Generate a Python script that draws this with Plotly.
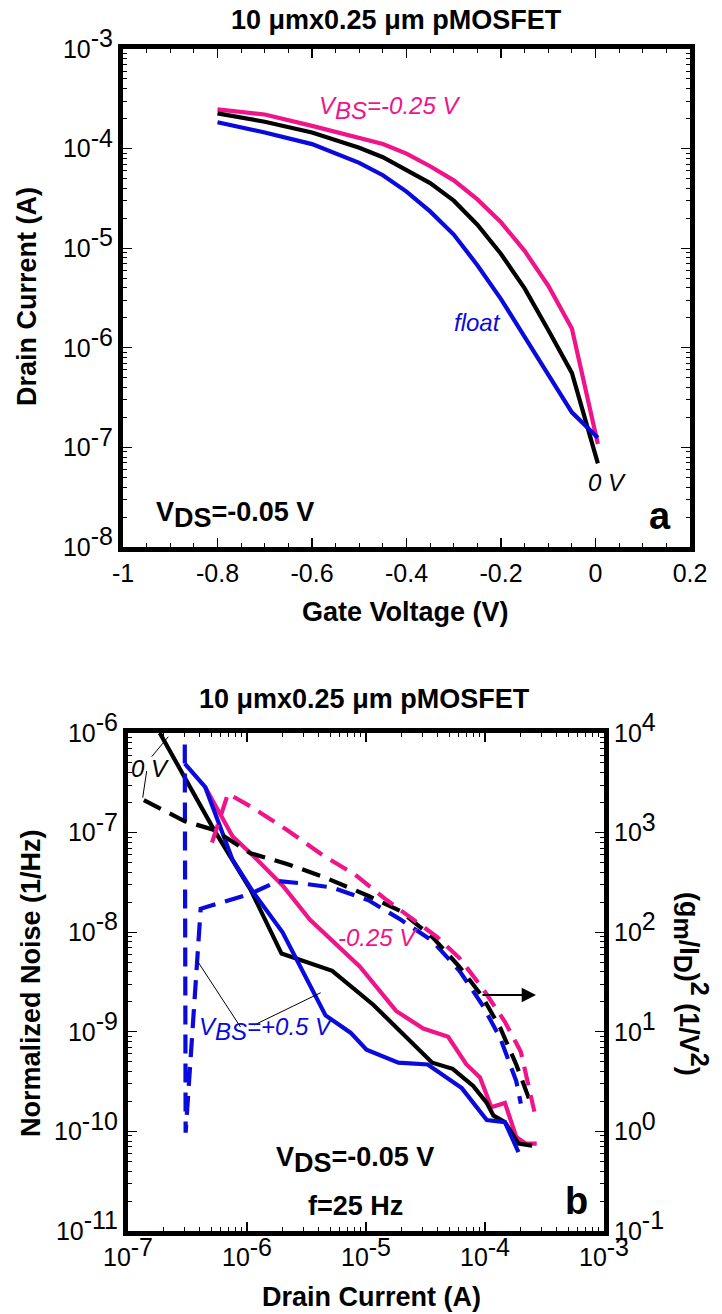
import plotly.graph_objects as go

# ---------------- Panel a : Id-Vg ----------------
vg_pink = [-0.8, -0.7, -0.6, -0.5, -0.45, -0.4, -0.35, -0.3, -0.25, -0.2, -0.15, -0.1, -0.05, 0.005]
id_pink = [2.48e-4, 2.20e-4, 1.69e-4, 1.28e-4, 1.11e-4, 8.9e-5, 6.65e-5, 4.8e-5, 3.09e-5, 1.82e-5, 9.4e-6, 4.2e-6, 1.56e-6, 1.08e-7]
vg_black = [-0.8, -0.7, -0.6, -0.5, -0.45, -0.4, -0.35, -0.3, -0.25, -0.2, -0.15, -0.1, -0.05, 0.005]
id_black = [2.26e-4, 1.86e-4, 1.45e-4, 1.02e-4, 8.2e-5, 6.1e-5, 4.5e-5, 3.0e-5, 1.72e-5, 8.75e-6, 3.95e-6, 1.51e-6, 5.6e-7, 6.9e-8]
vg_blue = [-0.8, -0.7, -0.6, -0.5, -0.45, -0.4, -0.35, -0.3, -0.25, -0.2, -0.15, -0.1, -0.05, 0.005]
id_blue = [1.84e-4, 1.45e-4, 1.11e-4, 7.2e-5, 5.4e-5, 3.7e-5, 2.34e-5, 1.37e-5, 6.75e-6, 3.08e-6, 1.29e-6, 5.4e-7, 2.25e-7, 1.25e-7]

# ---------------- Panel b : noise (left axis) ----------------
idn_black = [1.85e-7, 5.3e-7, 1.07e-6, 1.95e-6, 5.2e-6, 1.15e-5, 3.6e-5, 5.35e-5, 7.96e-5, 1.035e-4, 1.18e-4, 1.47e-4, 1.91e-4, 2.49e-4]
sn_black = [1.0e-6, 1.06e-7, 2.68e-8, 6.1e-9, 4.1e-9, 1.87e-9, 4.9e-10, 4.25e-10, 2.86e-10, 1.93e-10, 1.44e-10, 1.24e-10, 7.55e-11, 7.2e-11]
idn_blue = [3.0e-7, 4.46e-7, 7.55e-7, 1.12e-6, 1.99e-6, 2.82e-6, 4.57e-6, 7.41e-6, 1.01e-5, 1.87e-5, 3.3e-5, 6.38e-5, 1.035e-4, 1.47e-4, 1.91e-4]
sn_blue = [4.92e-7, 2.86e-7, 5.35e-8, 2.55e-8, 9.98e-9, 4.53e-9, 1.46e-9, 9.8e-10, 6.6e-10, 4.9e-10, 4.7e-10, 2.72e-10, 1.3e-10, 1.24e-10, 6.2e-11]
idn_pink = [4.46e-7, 7.55e-7, 1.12e-6, 1.99e-6, 3.37e-6, 8.85e-6, 1.79e-5, 3.03e-5, 4.9e-5, 6.98e-5, 9.08e-5, 1.13e-4, 1.47e-4, 1.83e-4, 2.19e-4, 2.72e-4]
sn_pink = [2.86e-7, 9.2e-8, 5.9e-8, 2.95e-8, 1.34e-8, 4.53e-9, 1.62e-9, 1.08e-9, 8.9e-10, 4.7e-10, 3.48e-10, 1.75e-10, 1.93e-10, 8.8e-11, 7.55e-11, 7.55e-11]

# ---------------- Panel b : (gm/Id)^2 (right axis) ----------------
idg_black = [1.36e-7, 3.0e-7, 5.3e-7, 1.07e-6, 2.17e-6, 4.38e-6, 1.05e-5, 1.95e-5, 3.6e-5, 6.1e-5, 9.48e-5, 1.35e-4, 1.83e-4, 2.49e-4]
g_black = [2120, 1300, 1064, 620, 484, 360, 231, 163, 90, 45, 22.7, 10.8, 4.7, 1.75]
idg_pink = [5.08e-7, 6.92e-7, 1.07e-6, 2.17e-6, 4.38e-6, 8.09e-6, 1.5e-5, 2.54e-5, 3.94e-5, 6.1e-5, 9.48e-5, 1.47e-4, 2.0e-4, 2.6e-4]
g_pink = [792, 2466, 1832, 1064, 589, 378, 209, 134, 90, 55, 27.7, 12.6, 6.3, 1.58]
idg_blue = [3.0e-7, 3.05e-7, 4.08e-7, 1.07e-6, 1.82e-6, 2.82e-6, 5.22e-6, 1.05e-5, 1.95e-5, 3.6e-5, 6.1e-5, 9.48e-5, 1.35e-4, 1.83e-4, 2.0e-4]
g_blue = [7650, 0.97, 172, 243, 326, 310, 281, 209, 134, 82, 41, 18.7, 8.5, 3.2, 1.9]

# tick labels
xa_vals = [-1, -0.8, -0.6, -0.4, -0.2, 0, 0.2]
xa_text = ["-1", "-0.8", "-0.6", "-0.4", "-0.2", "0", "0.2"]
ya_exp = [-8, -7, -6, -5, -4, -3]
xb_exp = [-7, -6, -5, -4, -3]
yb_exp = [-11, -10, -9, -8, -7, -6]
yc_exp = [-1, 0, 1, 2, 3, 4]

PINK = "#F0148A"
BLUE = "#0A0ADC"
BLACK = "#000000"
FONT = "Liberation Sans"
W, H = 722, 1314
TICKSZ = 25


def pw(x):
    return x / W


def ph(y):
    return 1 - y / H


def pow_text(e):
    return "10<sup><span style='font-size:%dpx'>%d</span></sup>" % (TICKSZ, e)


def minor_vals(exps):
    out = []
    for e in exps[:-1]:
        for k in range(2, 10):
            out.append(k * 10.0 ** e)
    return out


fig = go.Figure()
LW = 4.2
fig.add_trace(go.Scatter(x=vg_pink, y=id_pink, mode="lines", line=dict(color=PINK, width=LW), xaxis="x", yaxis="y"))
fig.add_trace(go.Scatter(x=vg_black, y=id_black, mode="lines", line=dict(color=BLACK, width=LW), xaxis="x", yaxis="y"))
fig.add_trace(go.Scatter(x=vg_blue, y=id_blue, mode="lines", line=dict(color=BLUE, width=LW), xaxis="x", yaxis="y"))

DASH = "19px,10px"
fig.add_trace(go.Scatter(x=idg_blue, y=g_blue, mode="lines", line=dict(color=BLUE, width=LW, dash=DASH), xaxis="x2", yaxis="y3"))
fig.add_trace(go.Scatter(x=idg_black, y=g_black, mode="lines", line=dict(color=BLACK, width=LW, dash=DASH), xaxis="x2", yaxis="y3"))
fig.add_trace(go.Scatter(x=idg_pink, y=g_pink, mode="lines", line=dict(color=PINK, width=LW, dash=DASH), xaxis="x2", yaxis="y3"))

fig.add_trace(go.Scatter(x=idn_pink, y=sn_pink, mode="lines", line=dict(color=PINK, width=LW), xaxis="x2", yaxis="y2"))
fig.add_trace(go.Scatter(x=idn_black, y=sn_black, mode="lines", line=dict(color=BLACK, width=LW), xaxis="x2", yaxis="y2"))
fig.add_trace(go.Scatter(x=idn_blue, y=sn_blue, mode="lines", line=dict(color=BLUE, width=LW), xaxis="x2", yaxis="y2"))

tickfont = dict(family=FONT, size=TICKSZ, color="black")
common = dict(showline=True, linewidth=5, linecolor="black", showgrid=False, zeroline=False, automargin=False,
              ticks="inside", ticklen=9, tickwidth=1.3, tickcolor="black", tickfont=tickfont)
mnr = dict(ticks="inside", ticklen=4, tickcolor="black", tickwidth=1, showgrid=False)

# plot-area edges (pixels); axis lines are drawn just outside these
A_L, A_R, A_T, A_B = 123, 690, 49, 547
B_L, B_R, B_T, B_B = 128, 604, 733, 1231

fig.update_layout(
    width=W, height=H, autosize=False, showlegend=False,
    margin=dict(l=0, r=0, t=0, b=0, pad=0),
    paper_bgcolor="white", plot_bgcolor="white",
    xaxis=dict(domain=[pw(A_L), pw(A_R)], anchor="y", range=[-1, 0.2], tickmode="array",
               tickvals=xa_vals, ticktext=xa_text, mirror="ticks",
               minor=dict(tickmode="linear", tick0=0, dtick=0.05, **mnr), **common),
    yaxis=dict(domain=[ph(A_B), ph(A_T)], anchor="x", type="log", range=[-8, -3], tickmode="array",
               tickvals=[10.0 ** e for e in ya_exp], ticktext=[pow_text(e) for e in ya_exp], mirror="ticks",
               minor=dict(tickmode="array", tickvals=minor_vals(ya_exp), **mnr), **common),
    xaxis2=dict(domain=[pw(B_L), pw(B_R)], anchor="y2", type="log", range=[-7, -3], tickmode="array",
                tickvals=[10.0 ** e for e in xb_exp], ticktext=[pow_text(e) for e in xb_exp], mirror="ticks",
                minor=dict(tickmode="array", tickvals=minor_vals(xb_exp), **mnr), **common),
    yaxis2=dict(domain=[ph(B_B), ph(B_T)], anchor="x2", type="log", range=[-11, -6], tickmode="array",
                tickvals=[10.0 ** e for e in yb_exp], ticktext=[pow_text(e) for e in yb_exp], mirror=True,
                minor=dict(tickmode="array", tickvals=minor_vals(yb_exp), **mnr), **common),
    yaxis3=dict(overlaying="y2", anchor="x2", side="right", type="log", range=[-1, 4], tickmode="array",
                tickvals=[10.0 ** e for e in yc_exp], ticktext=[pow_text(e) for e in yc_exp],
                minor=dict(tickmode="array", tickvals=minor_vals(yc_exp), **mnr), **common),
)

ann = []


def txt(text, x, y, size=27, color="black", xanchor="center", yanchor="middle", angle=0):
    ann.append(dict(text=text, x=pw(x), y=ph(y), xref="paper", yref="paper", showarrow=False,
                    xanchor=xanchor, yanchor=yanchor, textangle=angle,
                    font=dict(family=FONT, size=size, color=color)))


def sub(s, size):
    return "<sub><span style='font-size:%dpx'>%s</span></sub>" % (size, s)


def sup(s, size):
    return "<sup><span style='font-size:%dpx'>%s</span></sup>" % (size, s)


TITLE = "<b>10 μmx0.25 μm pMOSFET</b>"
# panel a
txt(TITLE, 396, 20)
txt("<b>Drain Current (A)</b>", 27, 297, angle=-90)
txt("<b>Gate Voltage (V)</b>", 405, 612)
txt("<i>V" + sub("BS", 24) + "=-0.25 V</i>", 317, 108, size=24, color=PINK, xanchor="left")
txt("<i>float</i>", 477, 323, size=24, color=BLUE)
txt("<i>0 V</i>", 607, 482, size=24)
txt("<b>V" + sub("DS", 27) + "=-0.05 V</b>", 154, 515, xanchor="left")
txt("<b>a</b>", 660, 516, size=38)

# panel b
txt(TITLE, 365, 699)
txt("<b>Normalized Noise (1/Hz)</b>", 31, 983, angle=-90)
txt("<b>(g" + sub("m", 25) + "/I" + sub("D", 25) + ")" + sup("2", 25) + " (1/V" + sup("2", 25) + ")</b>", 692, 984, angle=90)
txt("<b>Drain Current (A)</b>", 371, 1297)
txt("<i>0 V</i>", 150, 768, size=24)
txt("<i>-0.25 V</i>", 377, 937, size=24, color=PINK)
txt("<i>V" + sub("BS", 24) + "=+0.5 V</i>", 197, 1029, size=24, color=BLUE, xanchor="left")
txt("<b>V" + sub("DS", 27) + "=-0.05 V</b>", 355, 1160)
txt("<b>f=25 Hz</b>", 355, 1206)
txt("<b>b</b>", 576, 1201, size=38)

ann.append(dict(x=pw(536), y=ph(995), xref="paper", yref="paper", ax=-55, ay=0,
                showarrow=True, arrowhead=2, arrowsize=1.3, arrowwidth=2.2, arrowcolor="black", text=""))
fig.update_layout(annotations=ann)

leaders = [
    (151.7, 756.7, 168.3, 736.7),
    (142.7, 797.7, 146.7, 771.0),
    (197.0, 960.4, 240.5, 1027.0),
    (254.2, 1025.0, 320.7, 992.7),
]
for x0, y0, x1, y1 in leaders:
    fig.add_shape(type="line", xref="paper", yref="paper", x0=pw(x0), y0=ph(y0), x1=pw(x1), y1=ph(y1),
                  line=dict(color="black", width=1))

fig.write_html("out.html", config={"displayModeBar": False, "staticPlot": True},
               post_script="document.body.style.margin='0px';document.body.style.overflow='hidden';")
